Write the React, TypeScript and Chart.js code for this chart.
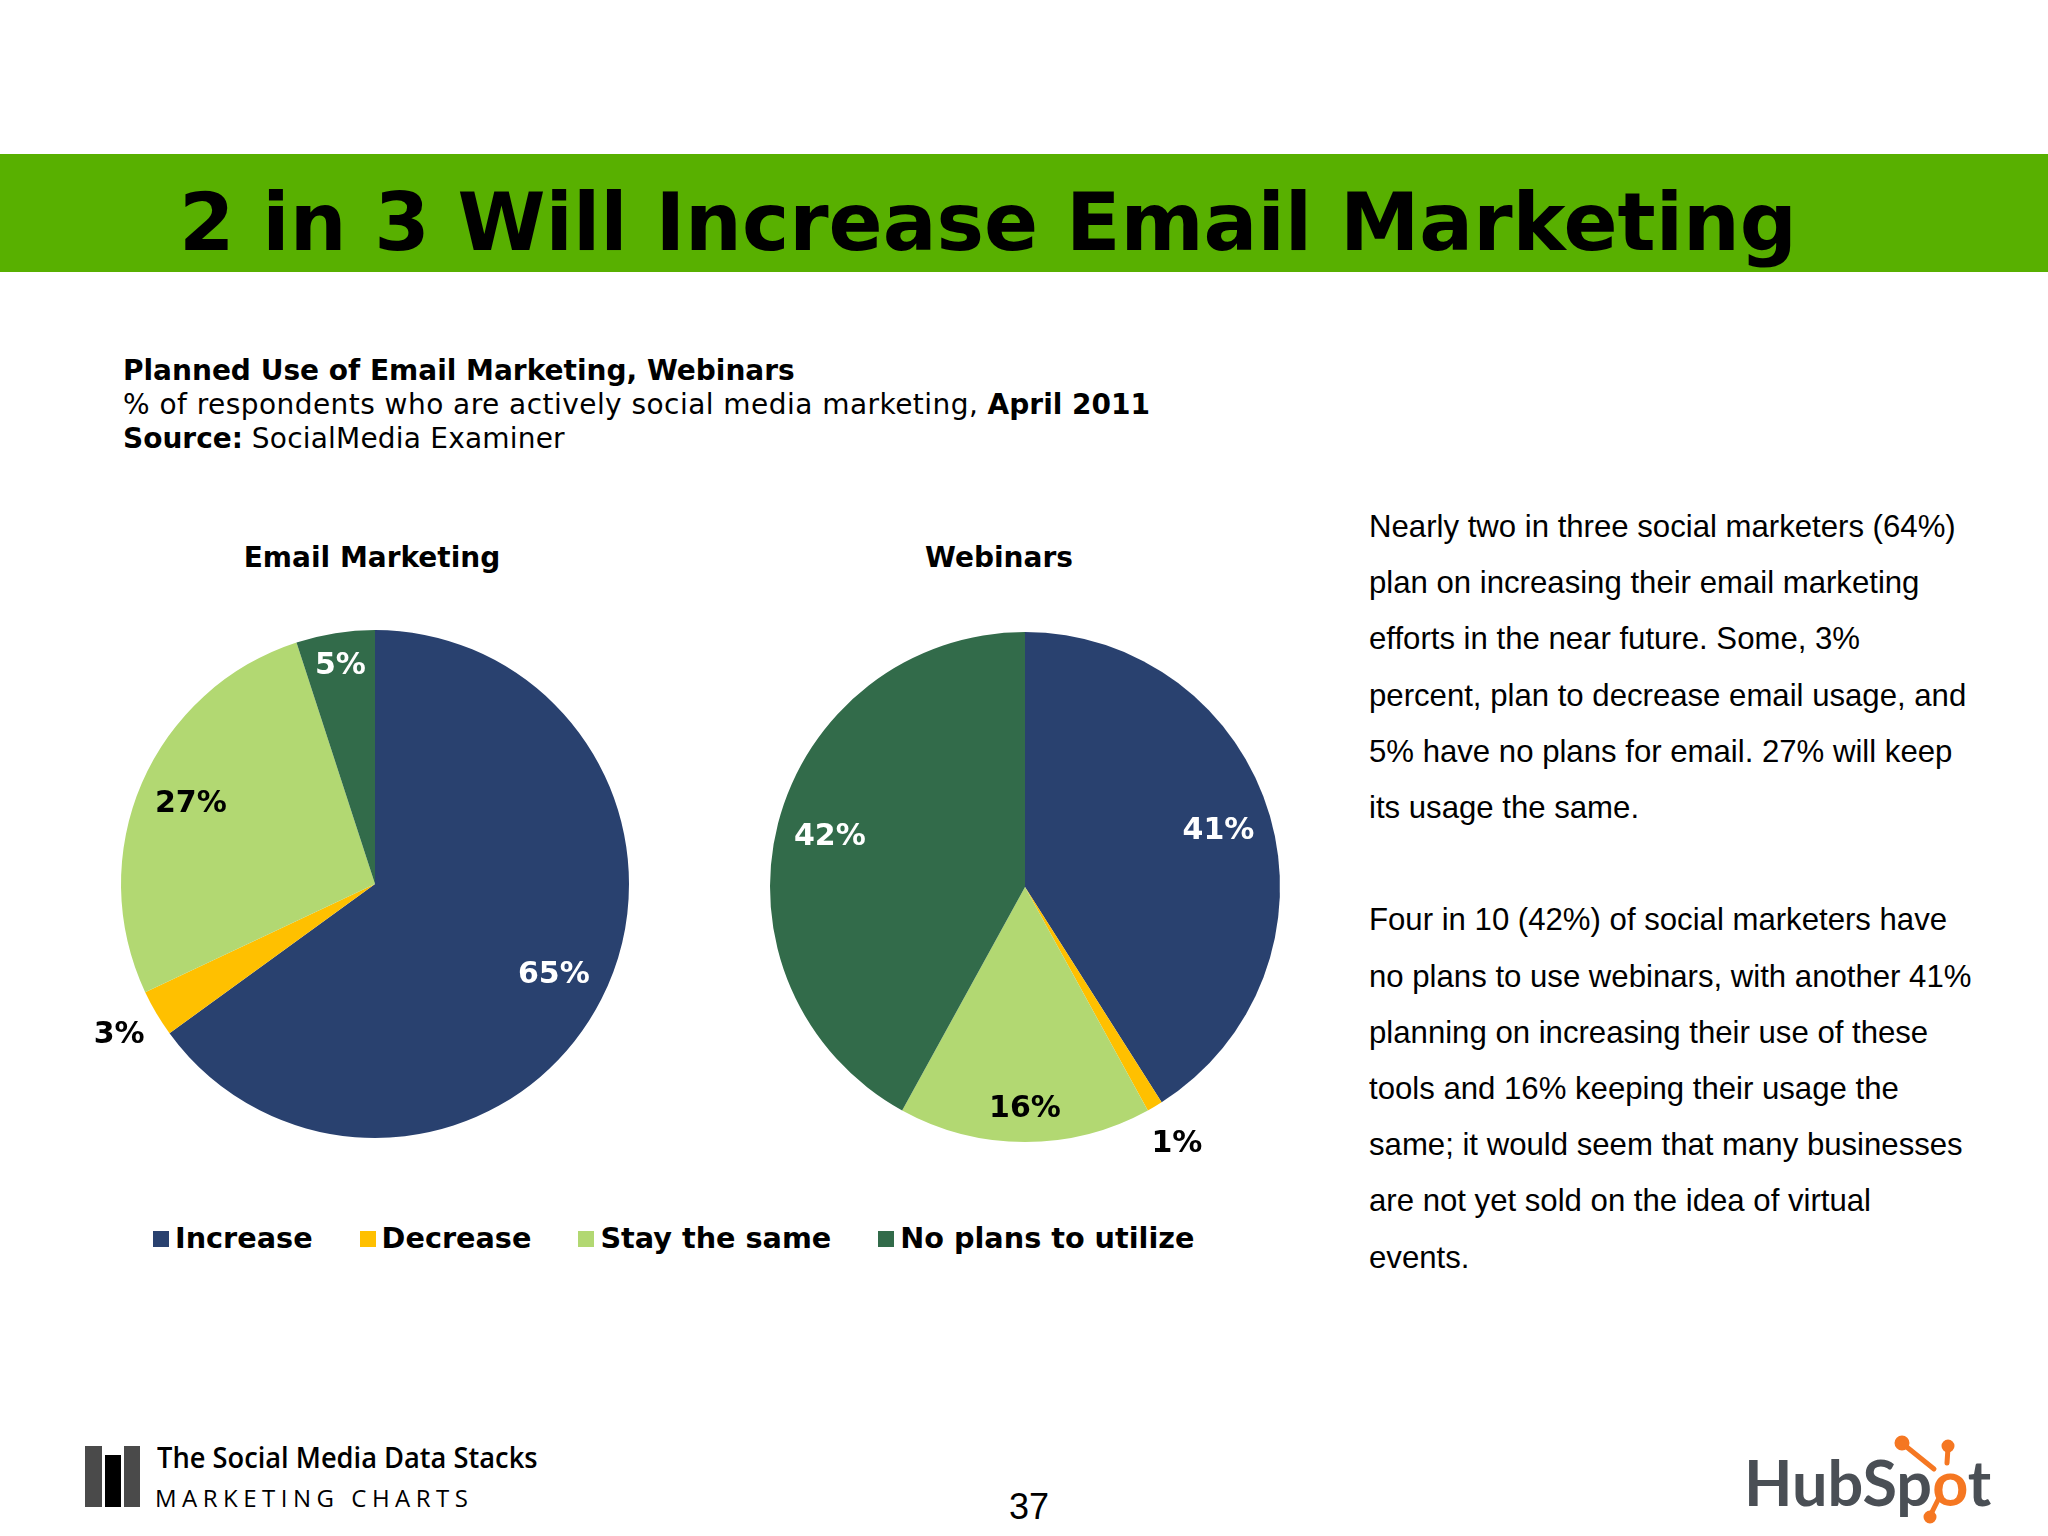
import React, { useEffect, useRef } from "react";
import { Chart, registerables } from "chart.js";

Chart.register(...registerables);

// ---- data ----
const categories = ["Increase", "Decrease", "Stay the same", "No plans to utilize"];
const emailValues = [65, 3, 27, 5];
const webinarValues = [41, 1, 16, 42];
const sliceColors = ["#29416F", "#FFC000", "#B2D872", "#326B4A"];
const insideLabelColors = ["#FFFFFF", "#000000", "#000000", "#FFFFFF"];
const chartTitles = ["Email Marketing", "Webinars"];

const pageTitle = "2 in 3 Will Increase Email Marketing";
const bodyParagraph1 = [
  "Nearly two in three social marketers (64%)",
  "plan on increasing their email marketing",
  "efforts in the near future. Some, 3%",
  "percent, plan to decrease email usage, and",
  "5% have no plans for email. 27% will keep",
  "its usage the same.",
];
const bodyParagraph2 = [
  "Four in 10 (42%) of social marketers have",
  "no plans to use webinars, with another 41%",
  "planning on increasing their use of these",
  "tools and 16% keeping their usage the",
  "same; it would seem that many businesses",
  "are not yet sold on the idea of virtual",
  "events.",
];

const OUTSIDE_MAX = 3;
const SMALL_INSIDE_MAX = 20;

const pieLabelPlugin = {
  id: "pieLabels",
  afterDatasetsDraw(chart: any) {
    const ctx = chart.ctx;
    const meta = chart.getDatasetMeta(0);
    const values = chart.data.datasets[0].data as number[];
    ctx.save();
    ctx.font = "bold 30px 'DejaVu Sans', Verdana, sans-serif";
    ctx.textAlign = "center";
    ctx.textBaseline = "middle";
    meta.data.forEach((arc: any, i: number) => {
      const p = arc.getProps(["x", "y", "startAngle", "endAngle", "outerRadius"], true);
      const v = values[i];
      const mid = (p.startAngle + p.endAngle) / 2;
      const outside = v <= OUTSIDE_MAX;
      const f = outside ? 1.17 : v < SMALL_INSIDE_MAX ? 0.87 : 0.79;
      ctx.fillStyle = outside ? "#000000" : insideLabelColors[i];
      ctx.fillText(
        v + "%",
        p.x + Math.cos(mid) * p.outerRadius * f,
        p.y + Math.sin(mid) * p.outerRadius * f
      );
    });
    ctx.restore();
  },
};

function PieChart({ values, left, top, radius }: { values: number[]; left: number; top: number; radius: number }) {
  const ref = useRef<HTMLCanvasElement | null>(null);
  useEffect(() => {
    if (!ref.current) return;
    const chart = new Chart(ref.current, {
      type: "pie",
      data: {
        labels: categories,
        datasets: [
          {
            data: values,
            backgroundColor: sliceColors,
            borderWidth: 0,
          },
        ],
      },
      options: {
        animation: false,
        responsive: false,
        radius: radius,
        layout: { padding: 0 },
        plugins: {
          legend: { display: false },
          tooltip: { enabled: false },
          title: { display: false },
        },
      } as any,
      plugins: [pieLabelPlugin],
    });
    return () => chart.destroy();
  }, [values, radius]);
  return (
    <canvas
      ref={ref}
      width={640}
      height={640}
      style={{ position: "absolute", left, top, width: 640, height: 640 }}
    />
  );
}

const abs = (o: React.CSSProperties): React.CSSProperties => ({ position: "absolute", whiteSpace: "nowrap", ...o });
const reg: React.CSSProperties = { letterSpacing: 0.45 };

export default function App() {
  return (
    <div
      style={{
        position: "fixed",
        left: 0,
        top: 0,
        width: 2048,
        height: 1536,
        background: "#FFFFFF",
        overflow: "hidden",
        color: "#000",
      }}
    >
      {/* banner */}
      <div style={abs({ left: 0, top: 154, width: 2048, height: 118, background: "#58B000" })} />
      <div
        style={abs({
          left: 179,
          top: 183,
          fontFamily: "'DejaVu Sans', Verdana, sans-serif",
          fontWeight: "bold",
          fontSize: 79.8,
          lineHeight: "80px",
          color: "#000",
        })}
      >
        {pageTitle}
      </div>

      {/* subtitle block */}
      <div
        style={abs({
          left: 123,
          top: 354,
          fontFamily: "'DejaVu Sans', Verdana, sans-serif",
          fontSize: 28,
          lineHeight: "34px",
        })}
      >
        <div style={{ fontWeight: "bold" }}>Planned Use of Email Marketing, Webinars</div>
        <div>
          <span style={reg}>% of respondents who are actively social media marketing, </span>
          <b>April 2011</b>
        </div>
        <div>
          <b>Source:</b> <span style={{ letterSpacing: 0.2 }}>SocialMedia Examiner</span>
        </div>
      </div>

      {/* chart titles */}
      {chartTitles.map((t, i) => (
        <div
          key={t}
          style={abs({
            left: i === 0 ? 372 - 200 : 999 - 200,
            width: 400,
            textAlign: "center",
            top: 544,
            fontFamily: "'DejaVu Sans', Verdana, sans-serif",
            fontWeight: "bold",
            fontSize: 28,
            lineHeight: "28px",
          })}
        >
          {t}
        </div>
      ))}

      <PieChart values={emailValues} left={375 - 320} top={884 - 320} radius={254} />
      <PieChart values={webinarValues} left={1025 - 320} top={887 - 320} radius={255} />

      {/* legend */}
      <div
        style={abs({
          left: 153,
          top: 1224,
          display: "flex",
          alignItems: "center",
          fontFamily: "'DejaVu Sans', Verdana, sans-serif",
          fontWeight: "bold",
          fontSize: 28.7,
          lineHeight: "29px",
        })}
      >
        {categories.map((c, i) => (
          <div key={c} style={{ display: "flex", alignItems: "center", marginRight: i < categories.length - 1 ? 47 : 0 }}>
            <div style={{ width: 16, height: 16, background: sliceColors[i], marginRight: 6 }} />
            <span>{c}</span>
          </div>
        ))}
      </div>

      {/* right-hand text */}
      <div
        style={abs({
          left: 1369,
          top: 499,
          fontFamily: "'Liberation Sans', Arial, sans-serif",
          fontSize: 31.15,
          lineHeight: "56.2px",
          color: "#000",
        })}
      >
        {bodyParagraph1.map((l) => (
          <div key={l}>{l}</div>
        ))}
        <div>&nbsp;</div>
        {bodyParagraph2.map((l) => (
          <div key={l}>{l}</div>
        ))}
      </div>

      {/* footer logo */}
      <div style={abs({ left: 85, top: 1446, width: 17, height: 61, background: "#4A4A4A" })} />
      <div style={abs({ left: 105, top: 1455, width: 16, height: 52, background: "#000000" })} />
      <div style={abs({ left: 124, top: 1446, width: 16, height: 61, background: "#4A4A4A" })} />
      <div
        style={abs({
          left: 157,
          top: 1442,
          fontFamily: "'Open Sans', sans-serif",
          fontWeight: 600,
          fontSize: 29,
          lineHeight: "29px",
          transform: "scaleX(0.94)",
          transformOrigin: "left top",
        })}
      >
        The Social Media Data Stacks
      </div>
      <div
        style={abs({
          left: 155,
          top: 1486,
          fontFamily: "'Open Sans', sans-serif",
          fontWeight: 400,
          fontSize: 24,
          lineHeight: "24px",
          letterSpacing: 5.5,
        })}
      >
        MARKETING CHARTS
      </div>

      {/* page number */}
      <div
        style={abs({
          left: 1029 - 50,
          width: 100,
          textAlign: "center",
          top: 1489,
          fontFamily: "'Liberation Sans Narrow', 'Liberation Sans', sans-serif",
          fontSize: 36,
          lineHeight: "36px",
        })}
      >
        37
      </div>

      {/* HubSpot wordmark */}
      <svg
        width={80}
        height={100}
        style={{ position: "absolute", left: 1890, top: 1430 }}
        viewBox="0 0 80 100"
      >
        <g stroke="#F57722" strokeWidth={5} strokeLinecap="round" fill="#F57722">
          <line x1={57} y1={33} x2={58} y2={18} />
          <line x1={44} y1={39} x2={13} y2={14} />
          <line x1={50} y1={66} x2={40} y2={86} />
          <circle cx={58} cy={16} r={4} />
          <circle cx={12} cy={13} r={5} />
          <circle cx={40} cy={87} r={4} />
        </g>
      </svg>
      <div
        style={abs({
          left: 1744,
          top: 1450,
          fontFamily: "Lato, sans-serif",
          fontWeight: 700,
          fontSize: 63,
          lineHeight: "63px",
          color: "#4A4F55",
        })}
      >
        HubSp<span style={{ color: "#F57722" }}>o</span>t
      </div>
    </div>
  );
}
